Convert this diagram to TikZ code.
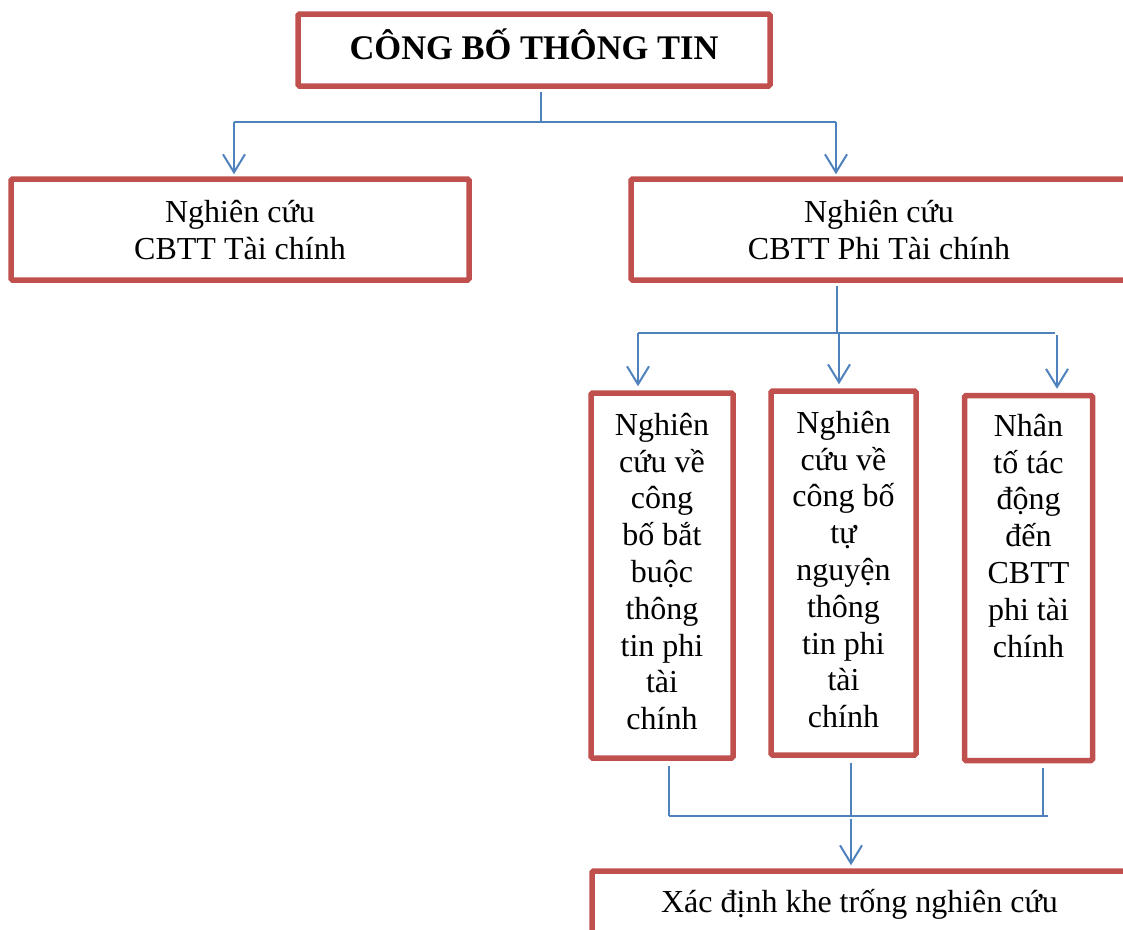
\documentclass[tikz,border=0pt]{standalone}
\usepackage{fontspec}
\setmainfont{Liberation Serif}
\usetikzlibrary{arrows.meta}
\definecolor{boxred}{HTML}{C0504D}
\definecolor{linkblue}{HTML}{4F81BD}
\begin{document}
\begin{tikzpicture}[x=1pt,y=-1pt,
  box/.style={draw=boxred, line width=5.5pt, rounded corners=1.5pt, inner sep=0pt, rectangle},
  link/.style={draw=linkblue, line width=2pt},
  arr/.style={link, -{Straight Barb[length=18pt,width=22pt,line width=2pt]}},
  txt/.style={font=\fontsize{32}{36.8}\selectfont, align=center, inner sep=0pt, anchor=north},
  ttl/.style={font=\fontsize{34.5}{40}\selectfont\bfseries, inner sep=0pt, anchor=base}]
\useasboundingbox (0,0) rectangle (1123,929);
\clip (0,0) rectangle (1123,929);
% boxes
\node[box, minimum width=472pt, minimum height=72pt] (top) at (534,50) {};
\node[box, minimum width=458pt, minimum height=101pt] (L) at (240,229.5) {};
\node[box, minimum width=520pt, minimum height=101pt] (R) at (891,229.5) {};
\node[box, minimum width=142pt, minimum height=365pt] (A) at (662,575.5) {};
\node[box, minimum width=145pt, minimum height=364pt] (B) at (843.5,573) {};
\node[box, minimum width=128pt, minimum height=365pt] (C) at (1028.5,578) {};
\node[box, minimum width=558pt, minimum height=89pt] (X) at (871,915.5) {};
% texts
\node[ttl] (tTop) at (534,59) {CÔNG BỐ THÔNG TIN};
\node[txt] (tL) at (240,192) {\rule{0pt}{30pt}Nghiên cứu\\CBTT Tài chính};
\node[txt] (tR) at (879,192) {\rule{0pt}{30pt}Nghiên cứu\\CBTT Phi Tài chính};
\node[txt] (tA) at (662,405) {\rule{0pt}{30pt}Nghiên\\cứu về\\công\\bố bắt\\buộc\\thông\\tin phi\\tài\\chính};
\node[txt] (tB) at (843.5,403) {\rule{0pt}{30pt}Nghiên\\cứu về\\công bố\\tự\\nguyện\\thông\\tin phi\\tài\\chính};
\node[txt] (tC) at (1028.5,406) {\rule{0pt}{30pt}Nhân\\tố tác\\động\\đến\\CBTT\\phi tài\\chính};
\node[txt] (tX) at (859.5,882) {\rule{0pt}{30pt}Xác định khe trống nghiên cứu};
% connectors level 1
\coordinate (j1) at (541,122);
\coordinate (j1l) at (234,122);
\coordinate (j1r) at (836,122);
\draw[link] ([yshift=-3pt]top.south -| j1) -- (j1);
\draw[link] (j1l) -- (j1r);
\draw[arr] (j1l) -- ([yshift=2pt]j1l |- L.north);
\draw[arr] (j1r) -- ([yshift=2pt]j1r |- R.north);
% connectors level 2
\coordinate (j2) at (837,333);
\coordinate (j2a) at (638,333);
\coordinate (j2b) at (839,333);
\coordinate (j2c) at (1055,333);
\coordinate (j2cc) at (1057,335);
\draw[link] ([yshift=-3pt]R.south -| j2) -- (j2);
\draw[link] (j2a) -- (j2c);
\draw[arr] (j2a) -- ([yshift=4pt]j2a |- A.north);
\draw[arr] (j2b) -- ([yshift=4pt]j2b |- B.north);
\draw[arr] (j2cc) -- ([yshift=4pt]j2cc |- C.north);
% connectors level 3
\coordinate (j3a) at (669,816);
\coordinate (j3b) at (851,816);
\coordinate (j3c) at (1043,816);
\coordinate (j3e) at (1048,816);
\coordinate (j3s) at (851,819);
\draw[link] ([yshift=-5pt]A.south -| j3a) -- (j3a);
\draw[link] ([yshift=-5pt]B.south -| j3b) -- (j3b);
\draw[link] ([yshift=-5pt]C.south -| j3c) -- (j3c);
\draw[link] (j3a) -- (j3e);
\draw[arr] (j3s) -- ([yshift=3pt]j3s |- X.north);
\end{tikzpicture}
\end{document}
